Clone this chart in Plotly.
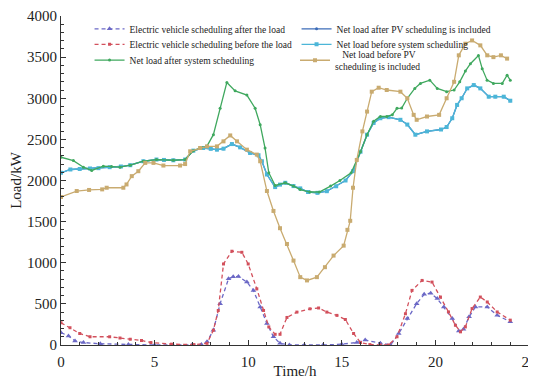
import plotly.graph_objects as go

# ---- data ----
t_cyan = [0, 0.5, 1, 1.55, 2, 2.6, 3.2, 3.7, 4.4, 5.1, 5.5, 6.0, 6.63, 7.07, 7.6, 8.0, 8.33, 8.68, 9.13, 9.57, 10.1, 10.55, 10.73, 11.0, 11.44, 11.7, 11.98, 12.42, 12.78, 13.2, 13.7, 14.2, 14.7, 15.2, 15.6, 16.0, 16.35, 16.7, 17.06, 17.5, 18.13, 18.5, 18.93, 19.55, 20.3, 20.6, 20.9, 21.16, 21.4, 21.7, 22.05, 22.4, 22.85, 23.2, 23.65, 24.0]
v_cyan = [2093, 2134, 2140, 2146, 2150, 2162, 2170, 2186, 2234, 2255, 2250, 2246, 2255, 2363, 2395, 2385, 2375, 2387, 2443, 2403, 2335, 2307, 2234, 2073, 1920, 1950, 1972, 1932, 1904, 1860, 1850, 1870, 1930, 2000, 2113, 2350, 2557, 2700, 2757, 2770, 2738, 2680, 2557, 2597, 2620, 2650, 2757, 2919, 3000, 3120, 3160, 3120, 3019, 3019, 3019, 2970]

t_green = [0, 0.66, 1.2, 1.64, 2.26, 2.7, 3.15, 3.7, 4.4, 5.1, 6.0, 6.63, 7.07, 7.5, 7.79, 8.14, 8.5, 8.86, 9.3, 9.93, 10.37, 10.64, 10.9, 11.1, 11.44, 11.98, 12.42, 12.78, 13.3, 13.8, 14.4, 14.9, 15.5, 16.0, 16.35, 16.7, 17.06, 17.4, 17.7, 17.95, 18.2, 18.5, 18.9, 19.2, 19.7, 20.1, 20.6, 21.0, 21.3, 21.6, 21.87, 22.3, 22.5, 22.76, 23.1, 23.57, 23.83, 24.0]
v_green = [2283, 2242, 2162, 2122, 2174, 2170, 2162, 2186, 2234, 2255, 2246, 2255, 2363, 2400, 2415, 2557, 2878, 3192, 3090, 3039, 2878, 2678, 2395, 2093, 1940, 1972, 1932, 1890, 1860, 1860, 1932, 2000, 2093, 2350, 2557, 2720, 2778, 2778, 2800, 2878, 2880, 3000, 3120, 3180, 3220, 3120, 3080, 3100, 3200, 3330, 3420, 3520, 3360, 3220, 3180, 3180, 3280, 3220]

t_tan = [0, 0.84, 1.5, 2.2, 2.44, 3.33, 3.5, 3.78, 4.13, 4.5, 4.94, 5.47, 6.36, 6.63, 6.9, 7.43, 7.8, 8.33, 8.68, 9.04, 9.4, 9.93, 10.46, 10.64, 11.0, 11.35, 11.7, 12.07, 12.42, 12.78, 13.14, 13.67, 14.1, 14.56, 15.1, 15.3, 15.45, 15.6, 15.8, 16.1, 16.35, 16.6, 16.97, 17.4, 18.13, 18.5, 18.84, 19.0, 19.55, 20.2, 20.6, 21.0, 21.25, 21.6, 21.96, 22.4, 22.77, 23.1, 23.5, 23.83]
v_tan = [1800, 1872, 1885, 1892, 1912, 1912, 1952, 2053, 2113, 2214, 2214, 2182, 2182, 2200, 2355, 2395, 2415, 2415, 2476, 2548, 2476, 2375, 2315, 2234, 1872, 1630, 1420, 1228, 1026, 825, 785, 825, 946, 1087, 1208, 1400, 1510, 1912, 2250, 2597, 2838, 3080, 3128, 3100, 3080, 3000, 2798, 2738, 2778, 2798, 3000, 3200, 3522, 3663, 3703, 3643, 3522, 3500, 3522, 3482]

t_red = [0, 0.48, 1.0, 1.55, 2.6, 3.15, 3.7, 4.3, 4.8, 5.9, 7.1, 7.8, 8.14, 8.4, 8.68, 9.13, 9.66, 10.0, 10.46, 10.82, 11.1, 11.44, 11.7, 12.07, 12.6, 13.3, 13.76, 14.2, 14.74, 15.19, 15.63, 16.0, 16.5, 17.06, 17.5, 17.95, 18.4, 18.75, 19.29, 19.82, 20.27, 20.7, 21.07, 21.34, 21.6, 21.96, 22.4, 22.77, 23.3, 24.0]
v_red = [270, 210, 140, 100, 100, 85, 70, 55, 30, 10, 5, 20, 180, 420, 985, 1140, 1127, 985, 683, 420, 220, 130, 130, 335, 400, 440, 450, 400, 360, 310, 140, 30, 5, 0, 0, 100, 380, 664, 785, 765, 583, 402, 240, 160, 220, 443, 583, 523, 402, 302]

t_blue = [0, 0.4, 0.75, 1.2, 2.1, 3.6, 5, 7, 7.5, 7.8, 8.14, 8.5, 8.95, 9.2, 9.48, 9.93, 10.28, 10.64, 11.0, 11.35, 11.7, 12.2, 13, 14, 15, 15.8, 16.25, 17.06, 17.6, 18.04, 18.5, 19.0, 19.4, 19.75, 20.1, 20.45, 20.9, 21.25, 21.5, 21.8, 22.14, 22.77, 23.3, 24.0]
v_blue = [150, 110, 50, 30, 15, 5, 0, 0, 5, 40, 180, 503, 805, 830, 833, 765, 664, 463, 262, 100, 20, 0, 0, 0, 10, 30, 60, 20, 0, 140, 322, 503, 616, 630, 564, 463, 322, 170, 190, 342, 463, 463, 362, 282]

FONT = "Liberation Serif, Times New Roman, DejaVu Serif, serif"

fig = go.Figure()

def add(t, v, name, color, dash, symbol, legend, msize=4):
    fig.add_trace(go.Scatter(
        x=t, y=v, name=name, mode="lines+markers",
        line=dict(color=color, width=1.3, dash=dash),
        marker=dict(color=color, size=msize, symbol=symbol),
        legend=legend))

add(t_blue, v_blue, "Electric vehicle scheduling after the load", "#6b68c6", "4px,3px", "triangle-up", "legend", 5)
add(t_cyan, v_cyan, "Net load after PV scheduling is included", "#3c6cb8", "solid", "circle", "legend", 3)
add(t_red, v_red, "Electric vehicle scheduling before the load", "#d2505c", "4px,3px", "square", "legend2", 3)
add(t_cyan, v_cyan, "Net load before system scheduling", "#4cb6d8", "solid", "square", "legend2", 4)
add(t_green, v_green, "Net load after system scheduling", "#3fa85e", "solid", "circle", "legend3", 3)
add(t_tan, v_tan, "   Net load before PV<br>scheduling is included", "#c9ab70", "solid", "square", "legend4", 4)

axis_common = dict(
    showgrid=False, zeroline=False, showline=True, linecolor="#333", linewidth=1,
    ticks="inside", ticklen=5, tickcolor="#333", automargin=False,
    ticklabeloverflow="allow",
    tickfont=dict(family=FONT, size=15, color="#222"),
    title_font=dict(family=FONT, size=15, color="#222"),
)

leg_common = dict(orientation="h", xanchor="left", yanchor="middle", bgcolor="rgba(0,0,0,0)",
                  font=dict(family=FONT, size=9.5, color="#222"), itemwidth=30,
                  entrywidth=162, entrywidthmode="pixels", valign="middle")

# page body has an 8px margin: figure is shrunk/offset accordingly
fig.update_layout(
    width=528, height=371,
    margin=dict(l=53, r=7, t=6, b=34),
    paper_bgcolor="white", plot_bgcolor="white",
    font=dict(family=FONT, color="#222"),
    xaxis=dict(range=[0, 25], dtick=5, ticklabelstandoff=3, title=dict(text="Time/h", standoff=1),
               minor=dict(dtick=1, ticks="inside", ticklen=3, tickcolor="#333"), **axis_common),
    yaxis=dict(range=[0, 4000], dtick=500, title=dict(text="Load/kW", standoff=3),
               minor=dict(dtick=100, ticks="inside", ticklen=3, tickcolor="#333"), **axis_common),
    legend=dict(x=0.061, y=0.961, **leg_common),
    legend2=dict(x=0.061, y=0.914, **leg_common),
    legend3=dict(x=0.061, y=0.866, **leg_common),
    legend4=dict(x=0.5, y=0.865, **leg_common),
)

fig.write_html("out.html")
